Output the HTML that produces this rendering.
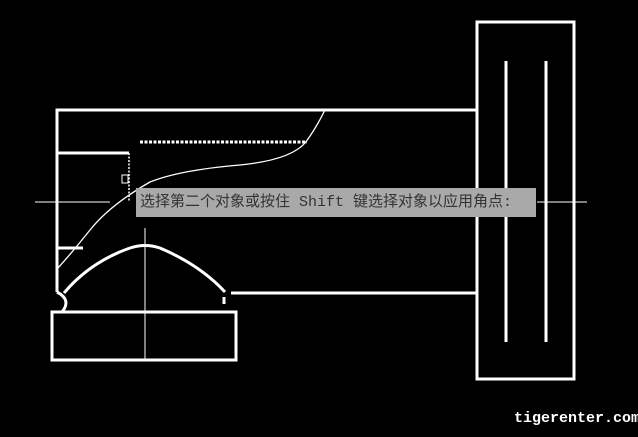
<!DOCTYPE html>
<html><head><style>
body{margin:0;background:#000;width:638px;height:437px;overflow:hidden;position:relative}
svg{position:absolute;left:0;top:0}
.tip{position:absolute;left:136px;top:188px;width:400px;height:29px;background:#a9a9a9;color:#333;font:15px "Liberation Mono","Noto Sans CJK SC",monospace;line-height:29px;padding-left:4px;box-sizing:border-box;white-space:nowrap}
.wm{position:absolute;left:514px;top:410px;color:#fff;font:bold 15px "Liberation Mono",monospace}
</style></head><body>
<svg width="638" height="437" fill="none" stroke="#fff">
<g stroke-width="3">
<rect x="477" y="22" width="97" height="357"/>
<line x1="506" y1="61" x2="506" y2="342"/>
<line x1="546" y1="61" x2="546" y2="342"/>
<polyline points="477,110 57,110 57,292"/>
<line x1="231" y1="293" x2="477" y2="293"/>
<polyline points="57,153 129,153"/>
<line x1="57" y1="248" x2="83" y2="248"/>
<rect x="52" y="312" width="184" height="48"/>
<path d="M64,293 Q90,262 130,248 Q145,243 160,248 Q200,265 225,292"/>
<path d="M57,292 Q72,300 62,312"/>
<line x1="224" y1="297" x2="224" y2="304"/>
<line x1="140" y1="142" x2="307" y2="142" stroke-dasharray="3 1.5"/>
</g>
<line x1="129" y1="153" x2="129" y2="202" stroke-dasharray="2 1.5" stroke-width="1.5"/>
<rect x="122" y="175" width="6" height="8" stroke-width="1"/>
<path d="M325,110 Q315,130 305,143 Q290,160 240,165 Q180,170 150,182 Q110,205 90,230 Q70,255 57,269" stroke-width="1.3"/>
<g stroke-width="1">
<line x1="35" y1="202" x2="110" y2="202"/>
<line x1="537" y1="202" x2="587" y2="202"/>
<line x1="145" y1="228" x2="145" y2="360"/>
</g>
</svg>
<div class="tip">选择第二个对象或按住 Shift 键选择对象以应用角点:</div>
<div class="wm">tigerenter.com</div>
</body></html>
